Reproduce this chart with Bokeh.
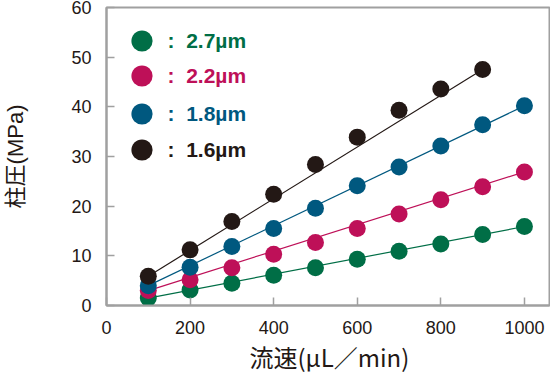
from bokeh.plotting import figure
from bokeh.models import Range1d, Legend, LegendItem, FixedTicker, Title
from bokeh.embed import file_html
from bokeh.resources import INLINE

flow = [100, 200, 300, 400, 500, 600, 700, 800, 900, 1000]
p27 = [1.5, 3.1, 4.5, 6.1, 7.6, 9.3, 10.9, 12.4, 14.3, 15.9]
p22 = [3.0, 5.2, 7.6, 10.3, 12.7, 15.5, 18.4, 21.3, 23.9, 26.9]
p18 = [4.0, 7.7, 11.9, 15.5, 19.6, 24.1, 27.9, 32.1, 36.4, 40.2]
flow16 = [100, 200, 300, 400, 500, 600, 700, 800, 900]
p16 = [5.9, 11.2, 16.9, 22.4, 28.4, 33.9, 39.3, 43.6, 47.5]

labels = [":  2.7µm", ":  2.2µm", ":  1.8µm", ":  1.6µm"]
colors = ["#006E46", "#BE1058", "#00587F", "#231815"]
x_ticks = [0, 200, 400, 600, 800, 1000]
y_ticks = [0, 10, 20, 30, 40, 50, 60]
x_title = "流速(µL／min)"
y_title = "柱圧(MPa)"

p = figure(width=550, height=376, output_backend="svg", toolbar_location=None,
           x_range=Range1d(0, 1060), y_range=Range1d(0, 60),
           min_border_left=105, min_border_right=1, min_border_top=7, min_border_bottom=71)
p.grid.visible = False
p.outline_line_color = "#a0a0a0"
p.outline_line_width = 2
p.background_fill_color = "white"
p.border_fill_color = "white"

for ax in (p.xaxis[0], p.yaxis[0]):
    ax.axis_line_color = "#a0a0a0"
    ax.axis_line_width = 2
    ax.major_tick_in = 8
    ax.major_tick_out = 0
    ax.major_tick_line_color = "#a0a0a0"
    ax.major_tick_line_width = 1.5
    ax.minor_tick_line_color = None
    ax.major_label_text_font = "Liberation Sans"
    ax.major_label_text_font_size = "18px"
    ax.major_label_text_color = "#231815"

p.xaxis[0].ticker = FixedTicker(ticks=x_ticks)
p.yaxis[0].ticker = FixedTicker(ticks=y_ticks)
p.xaxis[0].major_label_standoff = 15
p.yaxis[0].major_label_standoff = 15

yax = p.yaxis[0]
yax.axis_label = y_title
yax.axis_label_text_font = "Liberation Sans, Noto Sans CJK JP"
yax.axis_label_text_font_size = "22px"
yax.axis_label_text_font_style = "normal"
yax.axis_label_text_color = "#231815"
yax.axis_label_standoff = 40

p.add_layout(Title(text=x_title, align="left", offset=143, standoff=1,
                   text_font="Noto Sans CJK JP", text_font_size="24px",
                   text_font_style="normal", text_color="#231815"), "below")

series = [(flow, p27), (flow, p22), (flow, p18), (flow16, p16)]
legend_y = [238, 203, 165, 129]
for (xs, ys), col in zip(series, colors):
    p.segment(x0=[xs[0]], y0=[ys[0]], x1=[xs[-1]], y1=[ys[-1]], line_color=col, line_width=1.2)
for (xs, ys), col, lab, ly in zip(series, colors, labels, legend_y):
    r = p.scatter(xs, ys, size=17, fill_color=col, line_color=None)
    lg = Legend(items=[LegendItem(label=lab, renderers=[r])], location=(8.5, ly),
                glyph_width=53, glyph_height=53, label_standoff=0,
                margin=0, padding=0, spacing=0,
                border_line_color=None, background_fill_alpha=0,
                label_text_color=col, label_text_font="Liberation Sans",
                label_text_font_size="21px", label_text_font_style="bold")
    p.add_layout(lg, "center")

open("out.html", "w").write(file_html(p, INLINE))
